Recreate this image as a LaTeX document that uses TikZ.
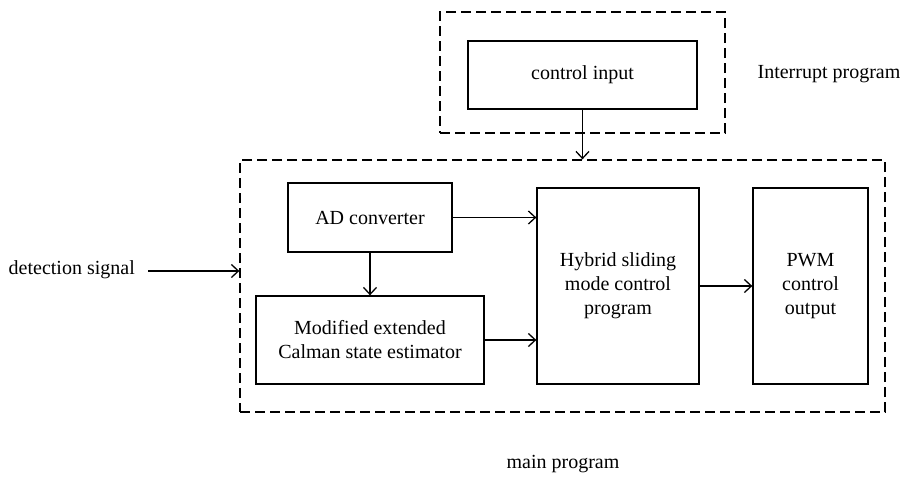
\documentclass[tikz,border=0pt]{standalone}
\usepackage{fontspec}
\setmainfont{Liberation Serif}
\usetikzlibrary{arrows.meta}
\tikzset{
  box/.style={draw, line width=1.3pt, align=center, inner sep=0pt,
    font=\fontsize{20pt}{24pt}\selectfont},
  dashbox/.style={draw, line width=1.3pt, dash pattern=on 10pt off 5pt, inner sep=0pt},
  lbl/.style={inner sep=0pt, font=\fontsize{20pt}{24pt}\selectfont},
  arr/.style={line width=1.3pt, -{Straight Barb[length=7pt,width=13pt]}}
}
\begin{document}
\begin{tikzpicture}[x=1pt,y=-1pt]
\useasboundingbox[fill=white] (0,0) rectangle (911,477);
% interrupt section
\node[dashbox, minimum width=285pt, minimum height=121pt] (ib) at (582.5,72.5) {};
\node[box, minimum width=229pt, minimum height=68pt] (ci) at (582.5,75) {control input};
\node[lbl] (ilbl) at (829,74) {Interrupt program};
% main section
\node[dashbox, minimum width=645pt, minimum height=252pt] (mb) at (562.5,286) {};
\node[box, minimum width=164pt, minimum height=69pt] (ad) at (370,217.5) {AD converter};
\node[box, minimum width=228pt, minimum height=88pt] (mod) at (370,340) {Modified extended\\Calman state estimator};
\node[box, minimum width=162pt, minimum height=196pt] (hyb) at (618,286) {Hybrid sliding\\mode control\\program};
\node[box, minimum width=115pt, minimum height=196pt] (pwm) at (810.5,286) {PWM\\control\\output};
\node[lbl, anchor=east] (det) at (135,270) {detection signal};
\node[lbl] (mlbl) at (563,464) {main program};
\coordinate (dstart) at (148,271);
% connectors
\draw[arr] (ci.south) -- (ci.south |- mb.north);
\draw[arr] (dstart) -- (dstart -| mb.west);
\draw[arr] (ad.east) -- (ad.east -| hyb.west);
\draw[arr] (mod.east) -- (mod.east -| hyb.west);
\draw[arr] (hyb.east) -- (pwm.west);
\draw[arr] (ad.south) -- (mod.north);
\end{tikzpicture}
\end{document}
